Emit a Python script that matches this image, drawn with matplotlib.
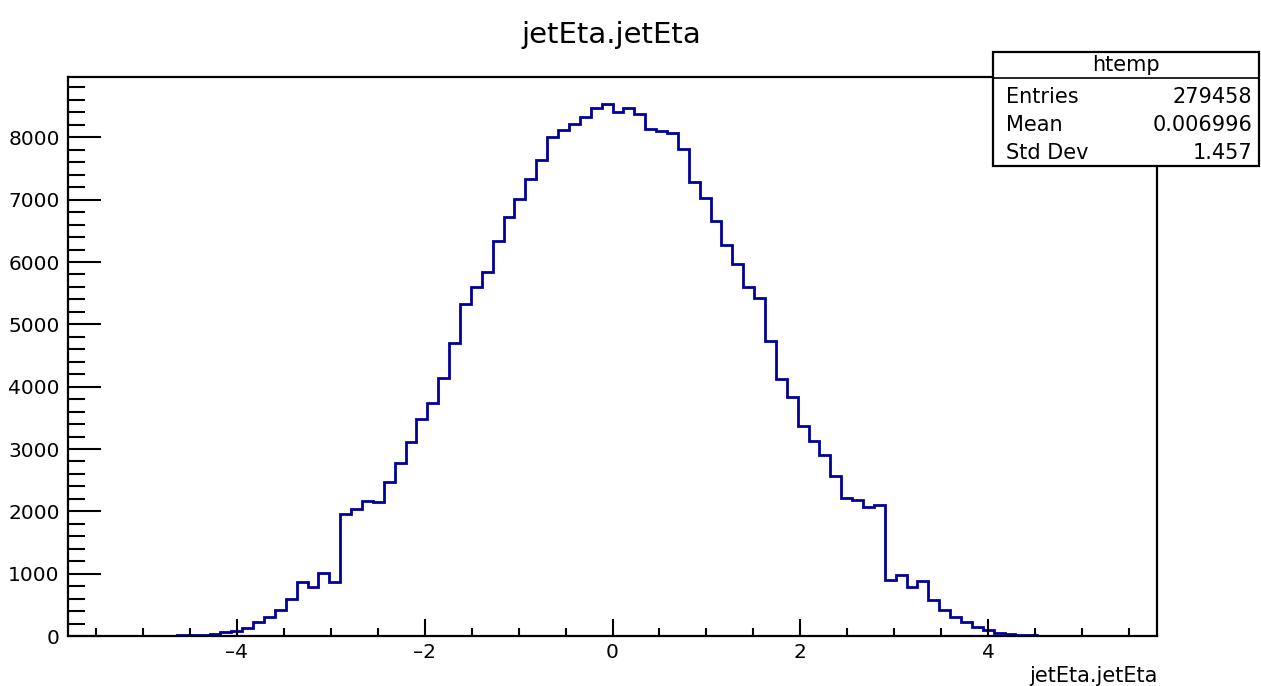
import numpy as np
import matplotlib
matplotlib.use('Agg')
import matplotlib.pyplot as plt
from matplotlib.ticker import MultipleLocator
from matplotlib.patches import Rectangle

# histogram htemp: 100 bins between -5.8 and 5.8
nBins = 100
xMin = -5.8
xMax = 5.8
cuentas = [0, 0, 0, 1, 1, 2, 2, 3, 4, 6,
           9, 13, 20, 35, 70, 80, 130, 228, 297, 415,
           586, 865, 785, 1015, 865, 1955, 2035, 2158, 2145, 2469,
           2774, 3111, 3481, 3743, 4139, 4702, 5328, 5601, 5842, 6345,
           6715, 7015, 7325, 7636, 8011, 8118, 8214, 8332, 8477, 8541,
           8413, 8466, 8375, 8129, 8096, 8064, 7807, 7285, 7022, 6662,
           6273, 5976, 5595, 5418, 4739, 4118, 3829, 3363, 3133, 2897,
           2570, 2210, 2174, 2077, 2104, 900, 980, 792, 888, 578,
           418, 311, 231, 150, 96, 54, 27, 15, 10, 7,
           5, 3, 2, 2, 1, 1, 0, 0, 0, 0]

statsNombres = ['Entries', 'Mean', 'Std Dev']
statsValores = ['279458', '0.006996', '1.457']

plt.rcParams['font.family'] = ['DejaVu Sans']

fig = plt.figure(figsize=(12.61, 6.86), dpi=100)
ax = fig.add_axes([68/1261, 1-636/686, (1157-68)/1261, (636-77)/686])

bordes = np.linspace(xMin, xMax, nBins + 1)
ax.stairs(cuentas, bordes, color='#000099', linewidth=2.0)

ax.set_xlim(xMin, xMax)
ax.set_ylim(0, max(cuentas) * 1.05)

for lado in ax.spines.values():
    lado.set_linewidth(1.6)

ax.xaxis.set_major_locator(MultipleLocator(2))
ax.xaxis.set_minor_locator(MultipleLocator(0.5))
ax.yaxis.set_major_locator(MultipleLocator(1000))
ax.yaxis.set_minor_locator(MultipleLocator(200))
ax.tick_params(axis='x', which='major', direction='in', length=12, width=1.5,
               labelsize=14.5, pad=5, top=False)
ax.tick_params(axis='x', which='minor', direction='in', length=6, width=1.5, top=False)
ax.tick_params(axis='y', which='major', direction='in', length=24, width=1.5,
               labelsize=14.5, pad=6, right=False)
ax.tick_params(axis='y', which='minor', direction='in', length=12, width=1.5, right=False)
ax.xaxis.set_major_formatter(plt.FuncFormatter(lambda v, p: ('\u2013' + str(int(abs(v)))) if v < 0 else str(int(v))))

fig.text(611/1261, 1 - 35/686, 'jetEta.jetEta', ha='center', va='center', fontsize=21)
fig.text(1158/1261, 1 - 676/686, 'jetEta.jetEta', ha='right', va='center', fontsize=15)

# cuadro de estadisticas
x0, x1 = 993/1261, 1259/1261
y0, y1 = 1 - 166/686, 1 - 52/686
fig.patches.append(Rectangle((x0, y0), x1 - x0, y1 - y0, transform=fig.transFigure,
                             facecolor='white', edgecolor='black', linewidth=1.6, zorder=5))
fig.add_artist(plt.Line2D([x0, x1], [1 - 78/686, 1 - 78/686], transform=fig.transFigure,
                          color='black', linewidth=1.2, zorder=6))
fig.text((x0 + x1) / 2, 1 - 65/686, 'htemp', ha='center', va='center', fontsize=15, zorder=7)
filasY = [97, 125, 153]
for nombre, valor, fy in zip(statsNombres, statsValores, filasY):
    fig.text(1006/1261, 1 - fy/686, nombre, ha='left', va='center', fontsize=15, zorder=7)
    fig.text(1252/1261, 1 - fy/686, valor, ha='right', va='center', fontsize=15, zorder=7)

plt.savefig('out.png', format='png', dpi=100)
